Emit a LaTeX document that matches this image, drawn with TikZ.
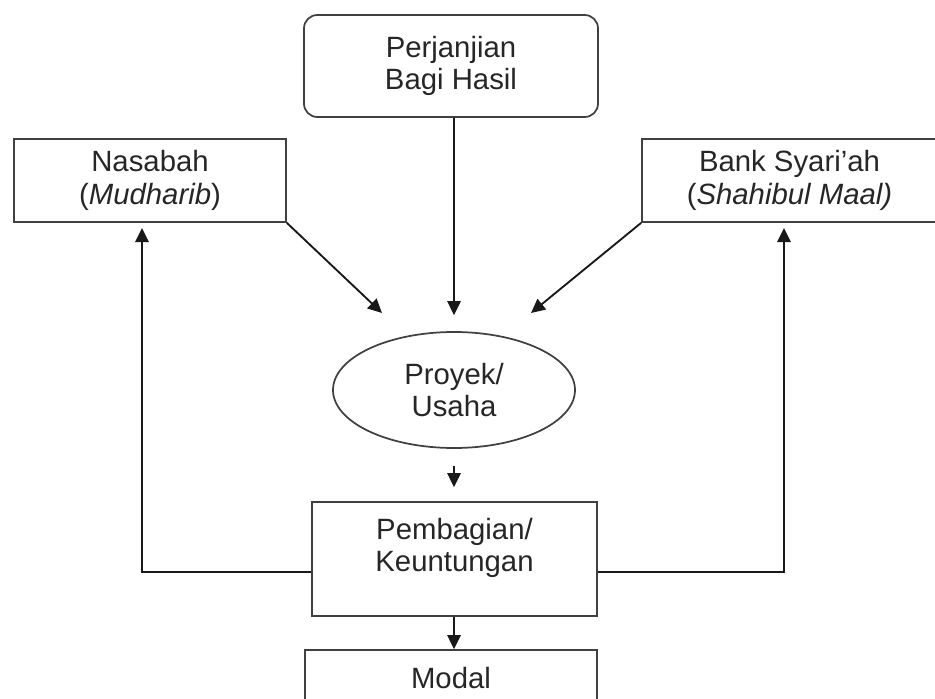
\documentclass[tikz,border=0pt]{standalone}
\usepackage{fontspec}
\setmainfont{Liberation Sans}
\usetikzlibrary{arrows.meta,shapes.geometric}

\begin{document}
\begin{tikzpicture}[
  x=0.75pt, y=-0.75pt,
  every node/.style={font=\fontsize{22}{24.5}\selectfont, text=black!85, align=center, inner sep=0pt},
  boxnode/.style={draw=black!75, line width=1.3pt, rectangle},
  roundbox/.style={boxnode, rounded corners=10pt},
  ovalnode/.style={draw=black!75, line width=1.3pt, ellipse},
  flow/.style={draw=black!90, line width=1.4pt, -{Triangle[length=10.5pt,width=10pt]}},
]
  % page frame
  \useasboundingbox (0,0) rectangle (935,699);
  \clip (0,0) rectangle (935,699);

  % boxes
  \node[roundbox, minimum width=220.5pt, minimum height=76.5pt] (perj) at (451,66) {Perjanjian\\Bagi Hasil};
  \node[boxnode, minimum width=204pt, minimum height=62.25pt] (nas) at (150,180.5) {Nasabah\\(\textit{Mudharib})};
  \node[boxnode, minimum width=221.25pt, minimum height=62.25pt] (bank) at (789.5,180.5) {Bank Syari'ah\\(\textit{Shahibul Maal)}};
  \node[ovalnode, minimum width=181.5pt, minimum height=87pt] (proy) at (454,390) {Proyek/\\Usaha};
  \node[boxnode, minimum width=213.75pt, minimum height=85.5pt] (pemb) at (454.5,559) {};
  \node (pembtext) at (454.5,548) {Pembagian/\\Keuntungan};
  \node[boxnode, minimum width=219pt, minimum height=42pt] (modal) at (451,678) {Modal};

  % free arrow ends
  \coordinate (tipL) at (382,313);
  \coordinate (tipR) at (531,313);
  \coordinate (upL) at (142,228);
  \coordinate (upR) at (784,228);

  % arrows into the project (kept vertical on the project's axis)
  \draw[flow] (nas.south east) -- (tipL);
  \draw[flow] (bank.south west) -- (tipR);
  \draw[flow, shorten >=12pt] (perj.south -| proy.north) -- (proy.north);
  \draw[flow, shorten <=12.75pt, shorten >=10.5pt] (proy.south) -- (proy.south |- pemb.north);

  % profit sharing back to both parties
  \draw[flow] ([yshift=-9.75pt]pemb.west) -| (upL);
  \draw[flow] ([yshift=-9.75pt]pemb.east) -| (upR);
  \draw[flow] (pemb.south -| proy.south) -- (modal.north -| proy.south);
\end{tikzpicture}
\end{document}
